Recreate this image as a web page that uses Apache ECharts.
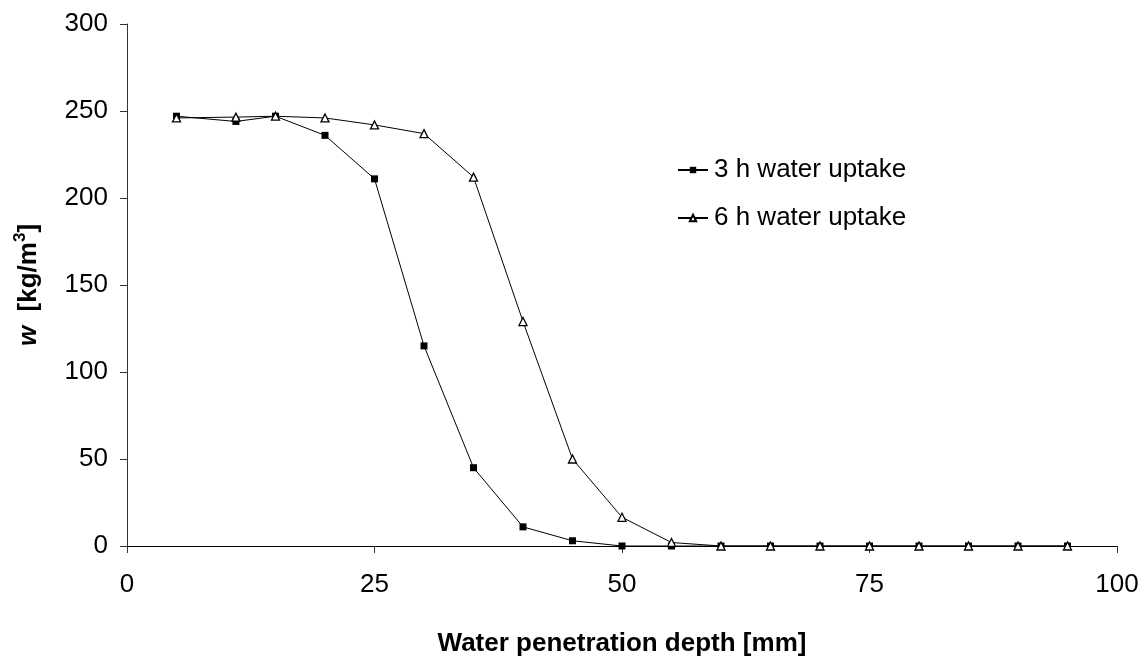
<!DOCTYPE html>
<html>
<head>
<meta charset="utf-8">
<script src="https://cdn.jsdelivr.net/npm/echarts@6/dist/echarts.min.js"></script>
<style>html,body{margin:0;padding:0;background:#fff}#c{width:1147px;height:662px}</style>
</head>
<body>
<div id="c"></div>
<script>
const depth = [5, 11, 15, 20, 25, 30, 35, 40, 45, 50, 55, 60, 65, 70, 75, 80, 85, 90, 95];
const uptake3h = [247, 244, 247, 236, 211, 115, 45, 11, 3, 0, 0, 0, 0, 0, 0, 0, 0, 0, 0];
const uptake6h = [246, 246.5, 247, 246, 242, 237, 212, 129, 50, 16.5, 2, 0, 0, 0, 0, 0, 0, 0, 0];
const seriesNames = ['3 h water uptake', '6 h water uptake'];
const xTicks = [0, 25, 50, 75, 100];
const yTicks = [0, 50, 100, 150, 200, 250, 300];

const font = 'Liberation Sans, Arial, sans-serif';
const FS = 26;
const chart = echarts.init(document.getElementById('c'));
chart.setOption({
  animation: false,
  backgroundColor: '#fff',
  grid: { left: 127, right: 30, top: 24, bottom: 116, containLabel: false },
  legend: {
    orient: 'vertical', left: 672, top: 152, itemGap: 22,
    itemWidth: 30, itemHeight: 8,
    textStyle: { fontFamily: font, fontSize: FS, lineHeight: 26, color: '#000', padding: [0, 0, 0, 1] },
    data: seriesNames
  },
  xAxis: {
    type: 'value', min: xTicks[0], max: xTicks[xTicks.length - 1], interval: 25,
    name: 'Water penetration depth [mm]', nameLocation: 'middle', nameGap: 85,
    nameTextStyle: { fontFamily: font, fontSize: FS, fontWeight: 'bold', color: '#000', lineHeight: 26 },
    axisLine: { lineStyle: { color: '#000', width: 1 } },
    axisTick: { length: 7, lineStyle: { color: '#333' } },
    axisLabel: { fontFamily: font, fontSize: FS, lineHeight: 26, color: '#000', margin: 26 },
    splitLine: { show: false }
  },
  yAxis: {
    type: 'value', min: yTicks[0], max: yTicks[yTicks.length - 1], interval: 50,
    name: '{i|w}{b|  [kg/m}{s|3}{b|]}', nameLocation: 'middle', nameGap: 85, nameRotate: 90,
    nameTextStyle: {
      fontFamily: font, fontSize: FS, fontWeight: 'bold', color: '#000',
      rich: {
        i: { fontFamily: font, fontSize: FS, fontWeight: 'bold', fontStyle: 'italic', color: '#000', lineHeight: 30, verticalAlign: 'bottom' },
        b: { fontFamily: font, fontSize: FS, fontWeight: 'bold', color: '#000', lineHeight: 30, verticalAlign: 'bottom' },
        s: { fontFamily: font, fontSize: 17, fontWeight: 'bold', color: '#000', lineHeight: 30, verticalAlign: 'top' }
      }
    },
    axisLine: { show: true, lineStyle: { color: '#333', width: 1 } },
    axisTick: { show: true, length: 7, lineStyle: { color: '#333' } },
    axisLabel: { fontFamily: font, fontSize: FS, color: '#000', margin: 19 },
    splitLine: { show: false }
  },
  series: [
    {
      name: seriesNames[0], type: 'line',
      data: depth.map((d, i) => [d, uptake3h[i]]),
      symbol: 'rect', symbolSize: 7,
      itemStyle: { color: '#000', borderColor: '#000', borderWidth: 0 },
      lineStyle: { color: '#000', width: 1 },
      z: 2
    },
    {
      name: seriesNames[1], type: 'line',
      data: depth.map((d, i) => [d, uptake6h[i]]),
      symbol: 'triangle', symbolSize: 8,
      itemStyle: { color: '#fff', borderColor: '#000', borderWidth: 1.3 },
      lineStyle: { color: '#000', width: 1 },
      z: 3
    }
  ]
});
</script>
</body>
</html>
